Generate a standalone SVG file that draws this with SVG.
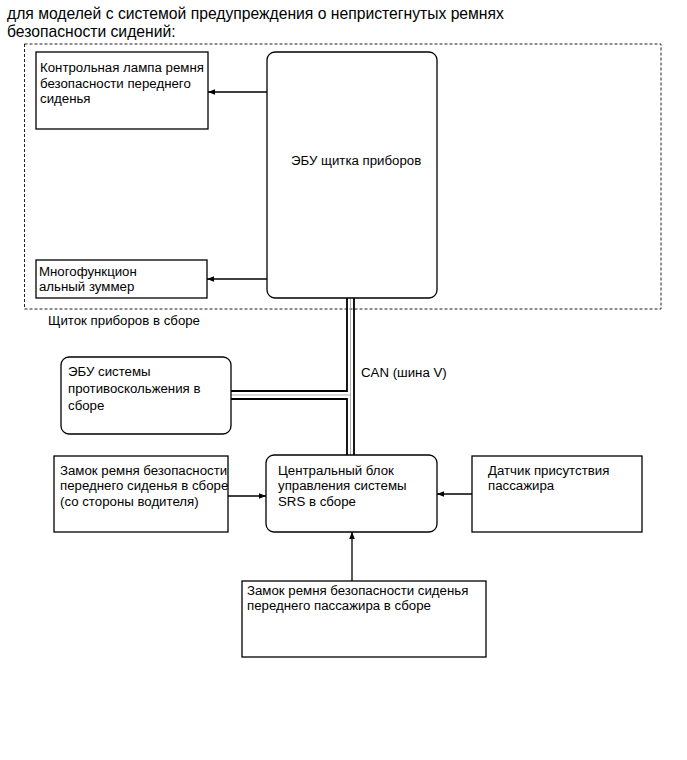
<svg xmlns="http://www.w3.org/2000/svg" width="687" height="760" viewBox="0 0 687 760">
<defs>
<style>
text{font-family:"Liberation Sans",Arial,sans-serif;font-size:13.25px;fill:#000}
text.title{font-size:15.7px}
.box{fill:#fff;stroke:#000;stroke-width:1.3}
.ln{stroke:#000;stroke-width:1.3;fill:none}
.bus{stroke:#000;stroke-width:1.8;fill:none}
.busg{stroke:#999;stroke-width:0.8;fill:none}
</style>
<marker id="ah" viewBox="0 0 10 10" refX="10" refY="5" markerWidth="7" markerHeight="7" markerUnits="userSpaceOnUse" orient="auto">
<path d="M0,1 L10,5 L0,9 z" fill="#000"/>
</marker>
</defs>
<rect width="687" height="760" fill="#fff"/>
<text class="title" x="7" y="19">для моделей с системой предупреждения о непристегнутых ремнях</text>
<text class="title" x="7" y="37">безопасности сидений:</text>
<g id="cluster">
<rect x="24.5" y="44" width="636.5" height="265" fill="none" stroke="#222" stroke-width="1" stroke-dasharray="3 2"/>
<text x="48" y="325">Щиток приборов в сборе</text>
</g>
<g id="connectors">
<line class="ln" x1="267" y1="92" x2="208" y2="92" marker-end="url(#ah)"/>
<line class="ln" x1="267" y1="279" x2="207" y2="279" marker-end="url(#ah)"/>
<line class="ln" x1="228" y1="496" x2="266" y2="496" marker-end="url(#ah)"/>
<line class="ln" x1="472" y1="494" x2="437" y2="494" marker-end="url(#ah)"/>
<line class="ln" x1="352" y1="581" x2="352" y2="532" marker-end="url(#ah)"/>
<g id="can-bus">
<path class="busg" d="M350.5,298 V455 M231,395 H350.5"/>
<path class="bus" d="M347,298 V391 H231 M231,399 H347 V455 M354,298 V455"/>
<text x="361" y="377">CAN (шина V)</text>
</g>
</g>
<g id="lamp">
<rect class="box" x="36" y="52" width="172" height="77"/>
<text x="40" y="72">Контрольная лампа ремня</text>
<text x="40" y="87.5">безопасности переднего</text>
<text x="40" y="103">сиденья</text>
</g>
<g id="ecu">
<rect class="box" x="267" y="52" width="170" height="246" rx="8"/>
<text x="291" y="164.5">ЭБУ щитка приборов</text>
</g>
<g id="buzzer">
<rect class="box" x="36" y="260" width="171" height="38"/>
<text x="39" y="276">Многофункцион</text>
<text x="39" y="291">альный зуммер</text>
</g>
<g id="abs">
<rect class="box" x="61" y="357" width="170" height="77" rx="8"/>
<text x="68" y="376">ЭБУ системы</text>
<text x="68" y="393">противоскольжения в</text>
<text x="68" y="410">сборе</text>
</g>
<g id="driver-buckle">
<rect class="box" x="54" y="456" width="174" height="76"/>
<text x="60" y="474.5">Замок ремня безопасности</text>
<text x="60" y="490">переднего сиденья в сборе</text>
<text x="60" y="505.5">(со стороны водителя)</text>
</g>
<g id="srs">
<rect class="box" x="266" y="455" width="171" height="77" rx="8"/>
<text x="278" y="474.5">Центральный блок</text>
<text x="278" y="490">управления системы</text>
<text x="278" y="505.5">SRS в сборе</text>
</g>
<g id="occupant-sensor">
<rect class="box" x="472" y="456" width="170" height="76"/>
<text x="488" y="474.5">Датчик присутствия</text>
<text x="488" y="489.5">пассажира</text>
</g>
<g id="passenger-buckle">
<rect class="box" x="242" y="581" width="244" height="76"/>
<text x="247" y="595">Замок ремня безопасности сиденья</text>
<text x="247" y="610">переднего пассажира в сборе</text>
</g>
</svg>
